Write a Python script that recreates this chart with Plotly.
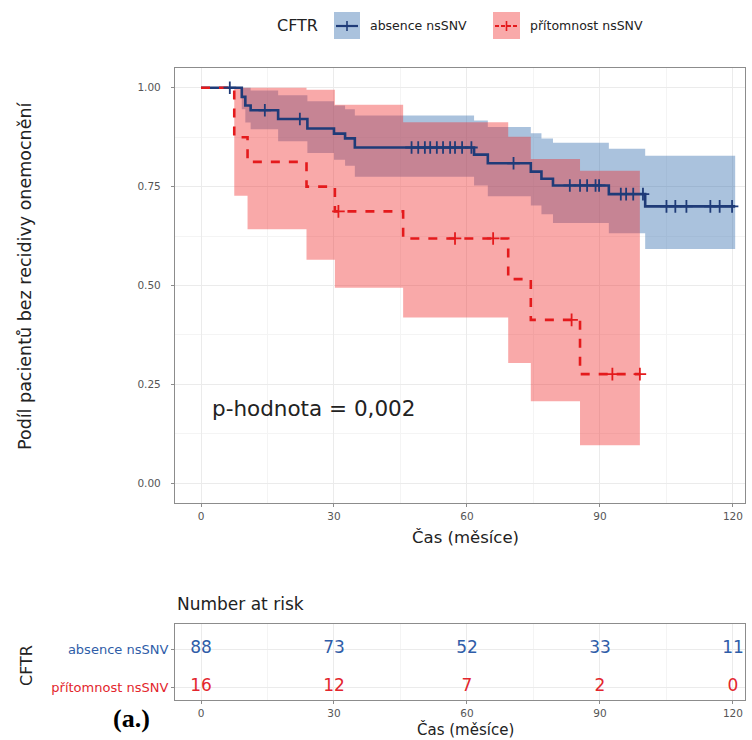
import numpy as np
import plotly.graph_objects as go

# ---------------- data ----------------
groups = ["absence nsSNV", "přítomnost nsSNV"]
legend_title = "CFTR"

blue_time = [0, 9.2, 10.0, 11.2, 17.4, 24.0, 30.0, 32.5, 34.7, 61.6, 64.7, 74.4, 76.8, 79.4, 92.0, 100.2, 120.5]
blue_surv = [1.0, 0.977, 0.955, 0.943, 0.921, 0.897, 0.884, 0.872, 0.849, 0.831, 0.809, 0.788, 0.770, 0.753, 0.731, 0.700, 0.700]
blue_lower = [1.0, 0.946, 0.912, 0.895, 0.865, 0.835, 0.818, 0.803, 0.775, 0.753, 0.726, 0.702, 0.680, 0.658, 0.632, 0.592, 0.592]
blue_upper = [1.0, 1.0, 1.0, 0.993, 0.981, 0.966, 0.955, 0.946, 0.930, 0.917, 0.901, 0.885, 0.872, 0.861, 0.846, 0.828, 0.828]
blue_censor = [6.5, 14.4, 22.3, 47.5, 49.0, 50.5, 51.7, 53.2, 54.6, 56.2, 57.3, 58.9, 61.0, 70.5,
               83.2, 85.5, 87.1, 89.0, 89.8, 94.7, 95.9, 97.5, 99.7, 105.0, 107.0, 109.5, 114.9, 117.0, 119.8]

red_time = [0, 7.5, 10.5, 23.8, 30.2, 45.6, 69.3, 74.4, 85.5, 99.0]
red_surv = [1.0, 0.875, 0.8125, 0.75, 0.6875, 0.619, 0.516, 0.413, 0.276, 0.276]
red_lower = [1.0, 0.727, 0.642, 0.565, 0.494, 0.419, 0.304, 0.2075, 0.096, 0.096]
red_upper = [1.0, 1.0, 1.0, 0.995, 0.957, 0.913, 0.876, 0.820, 0.790, 0.790]
red_censor = [31.0, 57.3, 65.9, 83.6, 92.8, 99.0]

risk_times = [0, 30, 60, 90, 120]
risk_blue = [88, 73, 52, 33, 11]
risk_red = [16, 12, 7, 2, 0]

x_ticks = [0, 30, 60, 90, 120]
y_ticks = [0.0, 0.25, 0.5, 0.75, 1.0]
p_text = "p-hodnota = 0,002"

# ---------------- styling ----------------
W, H = 752, 740
BLUE_LINE = "#1F3B78"
BLUE_FILL = "rgba(52,110,175,0.42)"
RED_LINE = "#E41A1C"
RED_FILL = "rgba(240,40,40,0.40)"
BLUE_TXT = "#2F5DA8"
RED_TXT = "#E3262D"
FONT = "DejaVu Sans, Liberation Sans, Arial, sans-serif"
GRID = "#EBEBEB"
MINOR = "#F4F4F4"
BORDER = "#8C8C8C"
TICKTXT = "#555555"
TXT = "#222222"


def fx(p):
    return p / W


def fy(p):
    return 1 - p / H


def step_at(times, vals, tq):
    times = np.asarray(times)
    vals = np.asarray(vals)
    idx = np.searchsorted(times, np.asarray(tq), side="right") - 1
    return vals[idx]


fig = go.Figure()


def band(t, lo, hi, color):
    fig.add_trace(go.Scatter(x=t, y=lo, mode="lines", line=dict(width=0, shape="hv"),
                             showlegend=False, hoverinfo="skip"))
    fig.add_trace(go.Scatter(x=t, y=hi, mode="lines", line=dict(width=0, shape="hv"),
                             fill="tonexty", fillcolor=color, showlegend=False, hoverinfo="skip"))


band(blue_time, blue_lower, blue_upper, BLUE_FILL)
band(red_time, red_lower, red_upper, RED_FILL)

fig.add_trace(go.Scatter(x=blue_time, y=blue_surv, mode="lines",
                         line=dict(color=BLUE_LINE, width=2.6, shape="hv"), showlegend=False))
fig.add_trace(go.Scatter(x=red_time, y=red_surv, mode="lines",
                         line=dict(color=RED_LINE, width=2.6, shape="hv", dash="dash"), showlegend=False))

fig.add_trace(go.Scatter(x=blue_censor, y=step_at(blue_time, blue_surv, blue_censor), mode="markers",
                         marker=dict(symbol="cross-thin", size=9, line=dict(color=BLUE_LINE, width=1.8)),
                         showlegend=False))
fig.add_trace(go.Scatter(x=red_censor, y=step_at(red_time, red_surv, red_censor), mode="markers",
                         marker=dict(symbol="cross-thin", size=9, line=dict(color=RED_LINE, width=1.8)),
                         showlegend=False))

# risk table
fig.add_trace(go.Scatter(x=risk_times, y=[2] * len(risk_times), mode="text",
                         text=[str(v) for v in risk_blue], textfont=dict(size=17, color=BLUE_TXT, family=FONT),
                         xaxis="x2", yaxis="y2", showlegend=False))
fig.add_trace(go.Scatter(x=risk_times, y=[1] * len(risk_times), mode="text",
                         text=[str(v) for v in risk_red], textfont=dict(size=17, color=RED_TXT, family=FONT),
                         xaxis="x2", yaxis="y2", showlegend=False))

# ---------------- axes ----------------
x_left, x_right = 175, 745
t0_px, px_per = 201, 4.433
xr = [(x_left - t0_px) / px_per, (x_right - t0_px) / px_per]

axis_common = dict(showline=True, mirror=True, linecolor=BORDER, linewidth=1.2,
                   ticks="outside", ticklen=3, tickcolor=BORDER, tickwidth=1,
                   gridcolor=GRID, gridwidth=1, zeroline=False)
tickfont = dict(size=10.5, color=TICKTXT, family=FONT)
xminor = dict(tickvals=[15, 45, 75, 105], showgrid=True, gridcolor=MINOR, gridwidth=0.6, ticks="")

fig.update_layout(
    width=W, height=H, margin=dict(l=0, r=0, t=0, b=0),
    paper_bgcolor="white", plot_bgcolor="white",
    font=dict(family=FONT),
    xaxis=dict(domain=[fx(x_left), fx(x_right)], range=xr, tickvals=x_ticks, anchor="y",
               minor=xminor, tickfont=tickfont, **axis_common),
    yaxis=dict(domain=[fy(503), fy(68)], range=[-0.05, 1.05], tickvals=y_ticks, tickformat=".2f", anchor="x",
               minor=dict(tickvals=[0.125, 0.375, 0.625, 0.875], showgrid=True, gridcolor=MINOR, gridwidth=0.6, ticks=""),
               tickfont=tickfont, ticklabelstandoff=8, **axis_common),
    xaxis2=dict(domain=[fx(x_left), fx(x_right)], range=xr, tickvals=x_ticks, anchor="y2",
                minor=xminor, tickfont=tickfont, **axis_common),
    yaxis2=dict(domain=[fy(700), fy(624)], range=[0.658, 2.658], anchor="x2",
                tickvals=[2, 1],
                ticktext=[f"<span style='color:{BLUE_TXT}'>{groups[0]}</span>",
                          f"<span style='color:{RED_TXT}'>{groups[1]}</span>"],
                tickfont=dict(size=13, family=FONT), **axis_common),
)

# ---------------- text ----------------
def note(x, y, text, size, color=TXT, angle=0, xanchor="center", family=FONT, xref="paper", yref="paper"):
    return dict(x=x, y=y, xref=xref, yref=yref, text=text, textangle=angle, showarrow=False,
                xanchor=xanchor, yanchor="middle", font=dict(size=size, color=color, family=family))


ann = [
    note(fx(25), fy(276), "Podíl pacientů bez recidivy onemocnění", 17.5, angle=-90),
    note(fx(465), fy(537), "Čas (měsíce)", 16.5),
    note(fx(465), fy(729), "Čas (měsíce)", 15),
    note(fx(26), fy(666), legend_title, 16, angle=-90),
    note(fx(175), fy(604), "Number at risk", 17, xanchor="left"),
    note(2, 0.19, p_text, 21.5, xanchor="left", xref="x", yref="y"),
    note(fx(131), fy(718), "<b>(a.)</b>", 26, color="black", family="Liberation Serif, Times New Roman, serif"),
    # manual legend
    note(fx(297), fy(26), legend_title, 16),
    note(fx(368), fy(26), groups[0], 12.5, xanchor="left"),
    note(fx(528), fy(26), groups[1], 12.5, xanchor="left"),
]

shapes = []
for (x0, x1), fill, col, dash in [((334, 360), BLUE_FILL, BLUE_LINE, "solid"), ((493, 520), RED_FILL, RED_LINE, "4px,2px")]:
    shapes.append(dict(type="rect", xref="paper", yref="paper", x0=fx(x0), x1=fx(x1), y0=fy(39), y1=fy(12),
                       fillcolor=fill, line=dict(width=0), layer="above"))
    shapes.append(dict(type="line", xref="paper", yref="paper", x0=fx(x0 + 2), x1=fx(x1 - 2), y0=fy(26), y1=fy(26),
                       line=dict(color=col, width=2.2, dash=dash)))
    xc = (x0 + x1) / 2
    shapes.append(dict(type="line", xref="paper", yref="paper", x0=fx(xc), x1=fx(xc), y0=fy(21), y1=fy(31),
                       line=dict(color=col, width=1.6)))
fig.update_layout(annotations=ann, shapes=shapes)

fig.write_html("out.html")
